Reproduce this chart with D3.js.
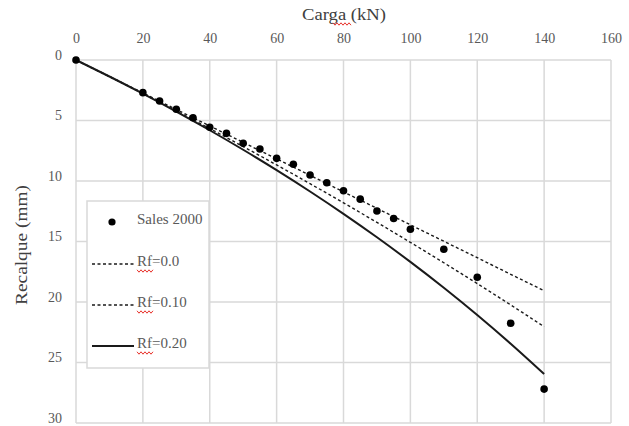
<!DOCTYPE html>
<html>
<head>
<meta charset="utf-8">
<script src="https://cdn.jsdelivr.net/npm/d3@7"></script>
<style>
  html, body { margin: 0; padding: 0; background: #fff; }
  svg { display: block; }
</style>
</head>
<body>
<svg id="chart" width="629" height="426"></svg>
<script>
// Load (kN) vs settlement (mm)
const xTicks = [0, 20, 40, 60, 80, 100, 120, 140, 160];
const yTicks = [0, 5, 10, 15, 20, 25, 30];

// Measured load test: Sales 2000
const salesLoad = [0, 20, 25, 30, 35, 40, 45, 50, 55, 60, 65, 70, 75, 80, 85, 90, 95, 100, 110, 120, 130, 140];
const salesSettle = [0, 2.7, 3.39, 4.07, 4.77, 5.56, 6.06, 6.89, 7.36, 8.13, 8.62, 9.5, 10.14, 10.8, 11.5, 12.48, 13.1, 13.99, 15.64, 17.96, 21.76, 27.2];

// Predicted curves for each failure ratio Rf
const modelLoad = [0, 10, 20, 30, 40, 50, 60, 70, 80, 90, 100, 110, 120, 130, 140];
const rf00 = [0, 1.36, 2.72, 4.09, 5.45, 6.81, 8.17, 9.53, 10.90, 12.26, 13.62, 14.98, 16.34, 17.71, 19.07];
const rf010 = [0, 1.375, 2.778, 4.208, 5.666, 7.155, 8.673, 10.223, 11.806, 13.421, 15.071, 16.757, 18.479, 20.24, 22.039];
const rf020 = [0, 1.363, 2.782, 4.262, 5.806, 7.418, 9.103, 10.867, 12.714, 14.652, 16.686, 18.824, 21.075, 23.447, 25.95];

const legendLabels = ["Sales 2000", "Rf=0.0", "Rf=0.10", "Rf=0.20"];

const SERIF = "\"Liberation Serif\", Tinos, serif";

const svg = d3.select("#chart");
const x = d3.scaleLinear().domain([0, 160]).range([76, 611]);
const y = d3.scaleLinear().domain([0, 30]).range([60, 423]);

const gridColor = "#d9d9d9";
const labelColor = "#595959";

// grid
svg.append("g").selectAll("line").data(xTicks).join("line")
  .attr("x1", d => x(d)).attr("x2", d => x(d))
  .attr("y1", y(0)).attr("y2", y(30))
  .attr("stroke", gridColor).attr("stroke-width", 1.5);
svg.append("g").selectAll("line").data(yTicks).join("line")
  .attr("x1", x(0)).attr("x2", x(160))
  .attr("y1", d => y(d)).attr("y2", d => y(d))
  .attr("stroke", gridColor).attr("stroke-width", 1.5);

// axes (labels only; grid draws the frame)
const xAxis = svg.append("g").attr("transform", "translate(0,43)")
  .call(d3.axisTop(x).tickValues(xTicks).tickSize(0).tickPadding(0).tickFormat(d3.format("d")));
xAxis.attr("font-family", SERIF).attr("font-size", 14);
xAxis.select(".domain").remove();
xAxis.selectAll("text").style("font-family", SERIF).attr("fill", labelColor);

const yAxis = svg.append("g").attr("transform", "translate(62,0)")
  .call(d3.axisLeft(y).tickValues(yTicks).tickSize(0).tickPadding(0).tickFormat(d3.format("d")));
yAxis.attr("font-family", SERIF).attr("font-size", 14);
yAxis.select(".domain").remove();
yAxis.selectAll("text").style("font-family", SERIF).attr("fill", labelColor)
  .attr("dy", "-0.05em");

// axis titles
svg.append("text")
  .attr("x", 344).attr("y", 20)
  .attr("text-anchor", "middle")
  .style("font-family", SERIF)
  .attr("font-size", 16.5).attr("fill", "#404040")
  .attr("textLength", 84).attr("lengthAdjust", "spacingAndGlyphs")
  .text("Carga (kN)");

svg.append("text")
  .attr("transform", "translate(27,245) rotate(-90)")
  .attr("text-anchor", "middle")
  .style("font-family", SERIF)
  .attr("font-size", 16).attr("fill", "#404040")
  .attr("textLength", 120).attr("lengthAdjust", "spacingAndGlyphs")
  .text("Recalque (mm)");

// wavy red spell-check underline
function squiggle(x0, x1, yy) {
  const pts = [];
  let up = true;
  for (let xx = x0; xx <= x1 + 0.01; xx += 2) {
    pts.push([xx, yy + (up ? -1.2 : 1.2)]);
    up = !up;
  }
  svg.append("path").attr("d", d3.line()(pts))
    .attr("fill", "none").attr("stroke", "#e8322b").attr("stroke-width", 1);
}
squiggle(333, 352, 24);

// curves
const line = d3.line().x(d => x(d[0])).y(d => y(d[1])).curve(d3.curveMonotoneX);
const curves = [
  { data: rf00, dash: "3,2.5", width: 1.4 },
  { data: rf010, dash: "3,2.5", width: 1.4 },
  { data: rf020, dash: null, width: 2 }
];
curves.forEach(c => {
  svg.append("path")
    .datum(modelLoad.map((q, i) => [q, c.data[i]]))
    .attr("d", line)
    .attr("fill", "none")
    .attr("stroke", "#1a1a1a")
    .attr("stroke-width", c.width)
    .attr("stroke-dasharray", c.dash);
});

// measured points
svg.append("g").selectAll("circle").data(salesLoad.map((q, i) => [q, salesSettle[i]])).join("circle")
  .attr("cx", d => x(d[0])).attr("cy", d => y(d[1]))
  .attr("r", 3.8).attr("fill", "#000");

// legend
const lg = svg.append("g");
lg.append("rect").attr("x", 87).attr("y", 201).attr("width", 122).attr("height", 167)
  .attr("fill", "#fff").attr("stroke", gridColor).attr("stroke-width", 1.5);
const rowY = [222, 264, 305, 346];
lg.append("circle").attr("cx", 112).attr("cy", rowY[0]).attr("r", 3.6).attr("fill", "#000");
[1, 2, 3].forEach(i => {
  lg.append("line").attr("x1", 92).attr("x2", 134).attr("y1", rowY[i]).attr("y2", rowY[i])
    .attr("stroke", "#1a1a1a")
    .attr("stroke-width", curves[i - 1].width)
    .attr("stroke-dasharray", curves[i - 1].dash);
});
legendLabels.forEach((t, i) => {
  lg.append("text").attr("x", 137).attr("y", rowY[i] + 2)
    .style("font-family", SERIF)
    .attr("font-size", 15).attr("fill", labelColor)
    .text(t);
});
[1, 2, 3].forEach(i => squiggle(137, 153, rowY[i] + 7));
</script>
</body>
</html>
